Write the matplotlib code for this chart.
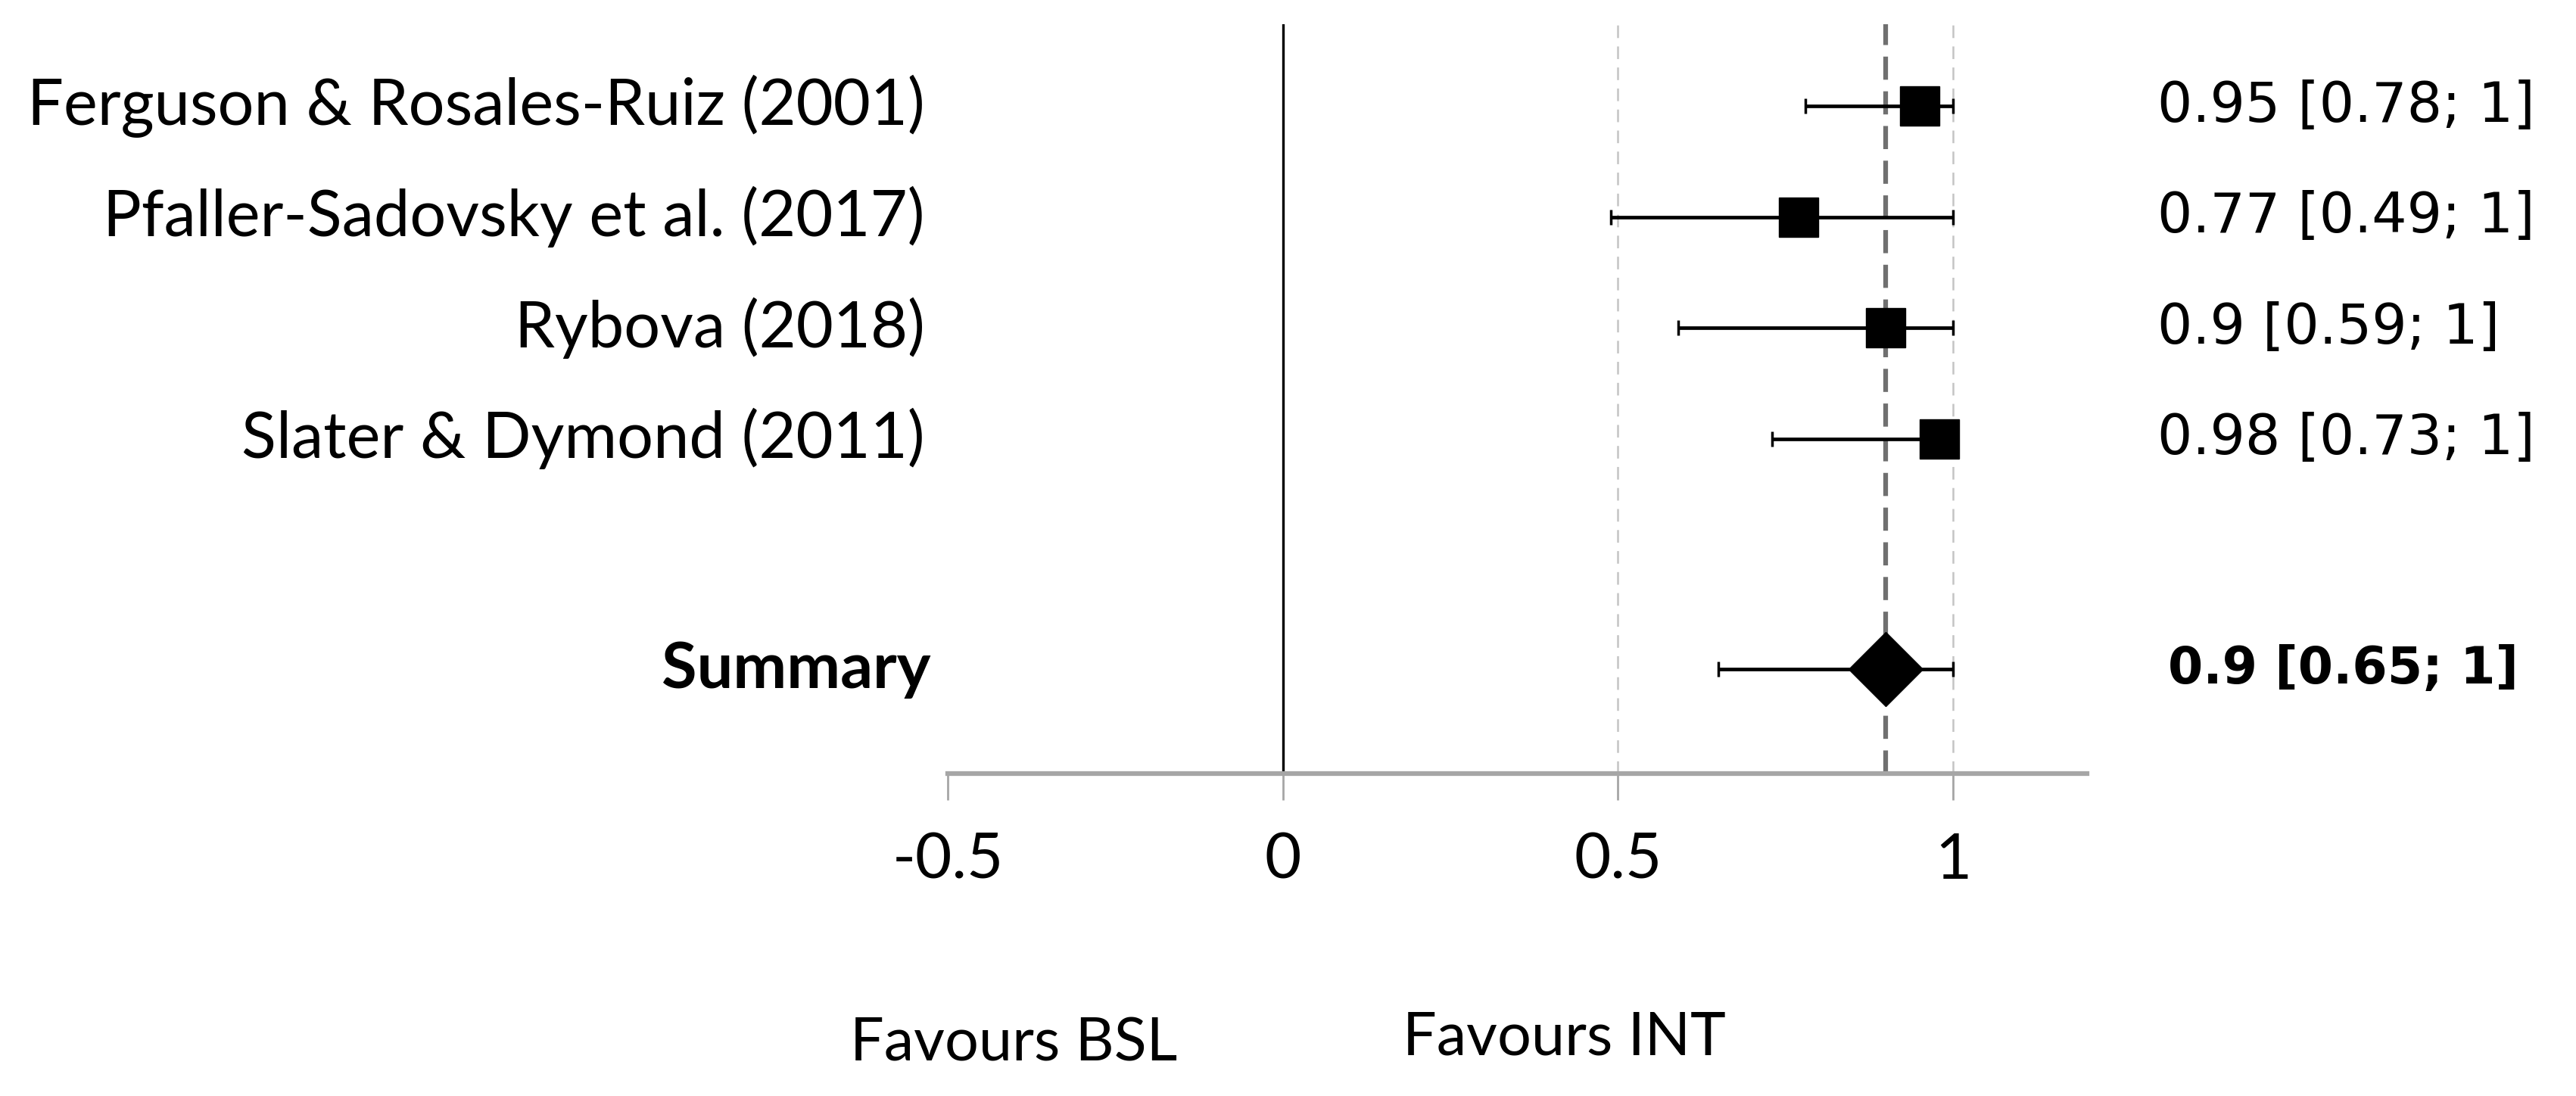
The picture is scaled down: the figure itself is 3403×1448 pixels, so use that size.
import matplotlib
matplotlib.use("Agg")
import matplotlib.pyplot as plt
import matplotlib.transforms as mtransforms

# ---- data ----
studies = ["Ferguson & Rosales-Ruiz (2001)", "Pfaller-Sadovsky et al. (2017)",
           "Rybova (2018)", "Slater & Dymond (2011)"]
est = [0.95, 0.77, 0.90, 0.98]
lo = [0.78, 0.49, 0.59, 0.73]
hi = [1.0, 1.0, 1.0, 1.0]
est_labels = ["0.95 [0.78; 1]", "0.77 [0.49; 1]", "0.9 [0.59; 1]", "0.98 [0.73; 1]"]
summary_name = "Summary"
summary_est = 0.90
summary_lo = 0.65
summary_hi = 1.0
summary_label = "0.9 [0.65; 1]"
xticks = [-0.5, 0, 0.5, 1]
xticklabels = ["-0.5", "0", "0.5", "1"]
favour_left = "Favours BSL"
favour_right = "Favours INT"

plt.rcParams['lines.scale_dashes'] = False
W, H = 3403, 1448
fig = plt.figure(figsize=(W / 100, H / 100), dpi=100)
ax = fig.add_axes([1252 / W, 1 - 1022 / H, (2757 - 1252) / W, (1022 - 32) / H])
ax.set_xlim(-0.5, 1.2)
ax.set_ylim(7.02, 0.26)

rows = [1, 2, 3, 4]
srow = 6.08

# reference lines
ax.axvline(0, color="black", lw=2.4, zorder=1)
for xv in (0.5, 1.0):
    ax.axvline(xv, color="#c4c4c4", lw=1.8, dashes=(12, 8), zorder=1)
ax.axvline(summary_est, color="#707070", lw=4.5, dashes=(22, 11), zorder=2)

# study estimates
for y, e, l, h in zip(rows, est, lo, hi):
    ax.errorbar(e, y, xerr=[[e - l], [h - e]], fmt="s", color="black",
                ms=37, ecolor="black", elinewidth=3.4, capsize=7, capthick=2.5,
                zorder=3)
ax.errorbar(summary_est, srow, xerr=[[summary_est - summary_lo], [summary_hi - summary_est]],
            fmt="D", color="black", ms=50, ecolor="black", elinewidth=3.4,
            capsize=7, capthick=2.5, zorder=3)

# axes styling
for s in ("top", "left", "right"):
    ax.spines[s].set_visible(False)
ax.spines["bottom"].set_color("#a6a6a6")
ax.spines["bottom"].set_linewidth(4.5)
ax.set_yticks([])
ax.set_xticks(xticks)
ax.set_xticklabels(xticklabels, fontfamily="Lato", fontsize=60)
ax.tick_params(axis="x", direction="out", length=25, width=2, color="#a6a6a6", pad=31)

tr = mtransforms.blended_transform_factory(fig.transFigure, ax.transData)

# left labels
for y, name in zip(rows, studies):
    ax.text(1222 / W, y, name, transform=tr, ha="right", va="center",
            fontfamily="Lato", fontsize=61)
ax.text(1230 / W, srow, summary_name, transform=tr, ha="right", va="center",
        fontfamily="Lato", fontweight="bold", fontsize=61)

# right labels
for y, lab in zip(rows, est_labels):
    ax.text(2850 / W, y, lab, transform=tr, ha="left", va="center",
            fontfamily="DejaVu Sans", fontsize=52.5)
ax.text(2864 / W, srow, summary_label, transform=tr, ha="left", va="center",
        fontfamily="DejaVu Sans", fontweight="bold", fontsize=48)

# favour labels
fig.text(1339 / W, 1 - 1380 / H, favour_left, ha="center", va="center",
         fontfamily="Lato", fontsize=57)
fig.text(2066 / W, 1 - 1371 / H, favour_right, ha="center", va="center",
         fontfamily="Lato", fontsize=57)

fig.savefig("out.png", dpi=100, facecolor="white")
